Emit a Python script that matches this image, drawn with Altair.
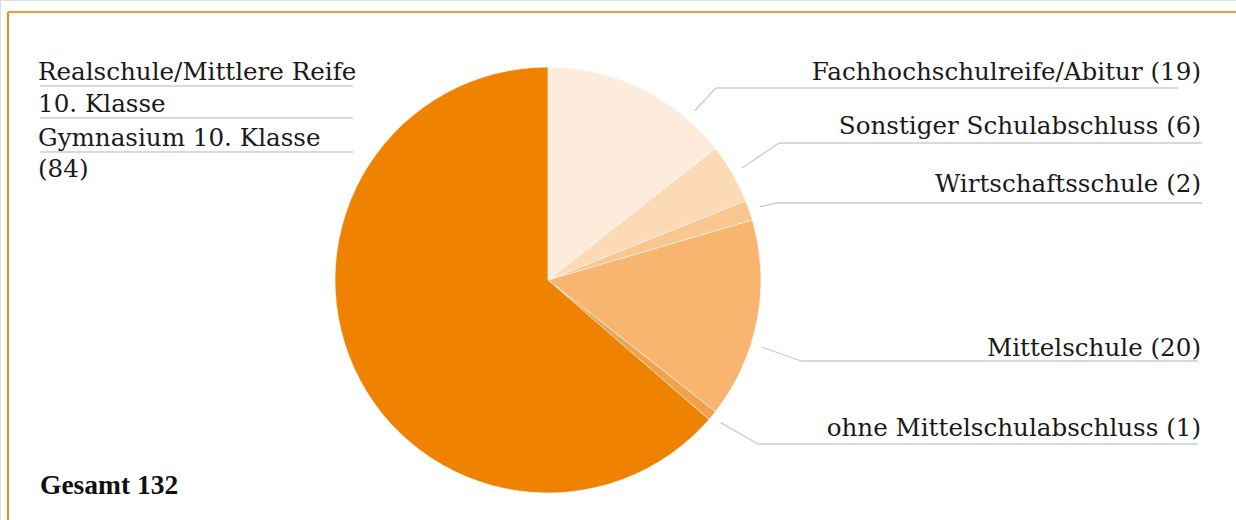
import math
import altair as alt
import pandas as pd

# ---------------- data ----------------
categories = [
    "Fachhochschulreife/Abitur",
    "Sonstiger Schulabschluss",
    "Wirtschaftsschule",
    "Mittelschule",
    "ohne Mittelschulabschluss",
    "Realschule/Mittlere Reife 10. Klasse Gymnasium 10. Klasse",
]
counts = [19, 6, 2, 20, 1, 84]
colors = ["#FDEBDB", "#FBDAB5", "#F9C690", "#F7B56F", "#F3A04A", "#EF8200"]
total_label = "Gesamt"

# ---------------- layout (pixels) ----------------
W, H = 1236, 520
CX, CY, R = 548, 280, 213
FONT = "DejaVu Serif"
FS = 24.6

right_text_x = 1201
right_text_y = [80, 134, 192, 356, 436]
right_line_y = [88, 143, 203, 361, 444]
right_elbow_x = [716, 779, 777, 801, 758]
right_line_end = [1178, 1202, 1202, 1198, 1198]
connector_offset_deg = [15, 0, 0, 6.5, 0]
connector_r = 224

left_lines = ["Realschule/Mittlere Reife", "10. Klasse", "Gymnasium 10. Klasse", f"({counts[5]})"]
left_text_x = 38
left_text_y = [80, 112, 146, 177]
left_rule_y = [86, 118, 152]
left_rule_x = [40, 353]

# ---------------- tables ----------------
labels = [f"{c} ({n})" for c, n in zip(categories, counts)]
pie_df = pd.DataFrame({"label": labels, "count": counts, "idx": list(range(len(counts)))})

total = sum(counts)
cum = 0
segs = []
texts = []
for i in range(5):
    mid = (cum + counts[i] / 2) / total * 360 + connector_offset_deg[i]
    cum += counts[i]
    a = math.radians(mid)
    sx = CX + connector_r * math.sin(a)
    sy = CY - connector_r * math.cos(a)
    segs.append({"x": sx, "y": sy, "x2": right_elbow_x[i], "y2": right_line_y[i]})
    segs.append({"x": right_elbow_x[i], "y": right_line_y[i], "x2": right_line_end[i], "y2": right_line_y[i]})
    texts.append({"x": right_text_x, "y": right_text_y[i], "t": labels[i]})
for yy in left_rule_y:
    segs.append({"x": left_rule_x[0], "y": yy, "x2": left_rule_x[1], "y2": yy})
seg_df = pd.DataFrame(segs)

left_df = pd.DataFrame({"x": [left_text_x] * 4, "y": left_text_y, "t": left_lines})
right_df = pd.DataFrame(texts)
total_df = pd.DataFrame({"x": [40], "y": [494], "t": [f"{total_label} {total}"]})

xs = alt.Scale(domain=[0, W], range=[0, W], nice=False, zero=False)
ys = alt.Scale(domain=[0, H], range=[0, H], nice=False, zero=False)

pie = alt.Chart(pie_df).mark_arc(radius=R, stroke="white", strokeWidth=0.6).encode(
    theta=alt.Theta("count:Q", stack=True),
    color=alt.Color("label:N", scale=alt.Scale(domain=labels, range=colors), legend=None),
    order=alt.Order("idx:Q"),
    x=alt.value(CX),
    y=alt.value(CY),
)

lines = alt.Chart(seg_df).mark_rule(color="#C8CECE", strokeWidth=1.3).encode(
    x=alt.X("x:Q", scale=xs, axis=None),
    y=alt.Y("y:Q", scale=ys, axis=None),
    x2="x2:Q",
    y2="y2:Q",
)

rtext = alt.Chart(right_df).mark_text(
    align="right", baseline="alphabetic", font=FONT, fontSize=FS, color="#1a1a1a"
).encode(x=alt.X("x:Q", scale=xs, axis=None), y=alt.Y("y:Q", scale=ys, axis=None), text="t:N")

ltext = alt.Chart(left_df).mark_text(
    align="left", baseline="alphabetic", font=FONT, fontSize=FS, color="#1a1a1a"
).encode(x=alt.X("x:Q", scale=xs, axis=None), y=alt.Y("y:Q", scale=ys, axis=None), text="t:N")

ttext = alt.Chart(total_df).mark_text(
    align="left", baseline="alphabetic", font="Liberation Serif", fontSize=27.5, fontWeight="bold", color="#111111"
).encode(x=alt.X("x:Q", scale=xs, axis=None), y=alt.Y("y:Q", scale=ys, axis=None), text="t:N")

frame_top = alt.Chart(pie_df).mark_rule(color="#F39A3C", strokeWidth=1.5).encode(
    x=alt.value(8), x2=alt.value(W), y=alt.value(12)
)
frame_left = alt.Chart(pie_df).mark_rule(color="#F08A1C", strokeWidth=1.5).encode(
    x=alt.value(8), y=alt.value(12), y2=alt.value(H)
)

chart = alt.layer(frame_top, frame_left, lines, pie, rtext, ltext, ttext).properties(
    width=W, height=H, padding=0, autosize=alt.AutoSizeParams(type="none")
).configure_view(stroke=None).configure(background="white")

chart.save("out.html", embed_options={"renderer": "svg", "actions": False})
